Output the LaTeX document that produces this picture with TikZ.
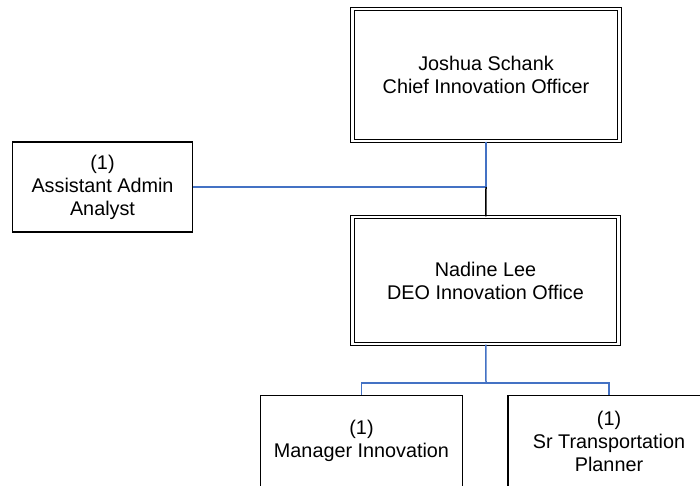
\documentclass[tikz,border=0pt]{standalone}
\usepackage{fontspec}
\setmainfont{Liberation Sans}
\usepackage{tikz}
\usetikzlibrary{arrows,positioning,calc}
\definecolor{blue}{RGB}{68,114,196}
\colorlet{linkcol}{blue}
\tikzset{headbox/.style={draw,double,line width=1.2pt,double distance=2.2pt,align=center,font=\fontsize{19.8}{23}\selectfont}}
\tikzset{staffbox/.style={draw,line width=1.2pt,align=center,font=\fontsize{19.8}{23}\selectfont}}
\tikzset{link/.style={-,line width=1.5pt,linkcol}}

\begin{document}
\begin{tikzpicture}[x=1pt,y=-1pt]
    \useasboundingbox (0,0) rectangle (700,486);
    \node[headbox,minimum width=267pt,minimum height=132pt] at (486,75) (chief) {Joshua Schank\\Chief Innovation Officer};
    \node[headbox,minimum width=266pt,minimum height=127pt] at (485.5,280.5) (deo) {Nadine Lee\\DEO Innovation Office};
    \node[staffbox,minimum width=180pt,minimum height=90pt] at (102.5,187) (analyst) {(1)\\Assistant Admin\\Analyst};
    \node[staffbox,minimum width=202pt,minimum height=91pt] at (361.5,441) (manager) {(1)\\Manager Innovation};
    \node[staffbox,minimum width=202pt,minimum height=91pt] at (609,441) (planner) {(1)\\Sr Transportation\\Planner};
    \coordinate (staffjoin) at (486,187);
    \coordinate (split) at (486,383);
    \draw [link] (chief) -- (staffjoin);
    \draw [link] (analyst.east) -- (staffjoin);
    \draw [line width=1.5pt] (staffjoin) -- (deo);
    \draw [link] (deo) -- (split);
    \draw [link] (split) -| (manager.north);
    \draw [link] (split) -| (planner.north);
\end{tikzpicture}
\end{document}
